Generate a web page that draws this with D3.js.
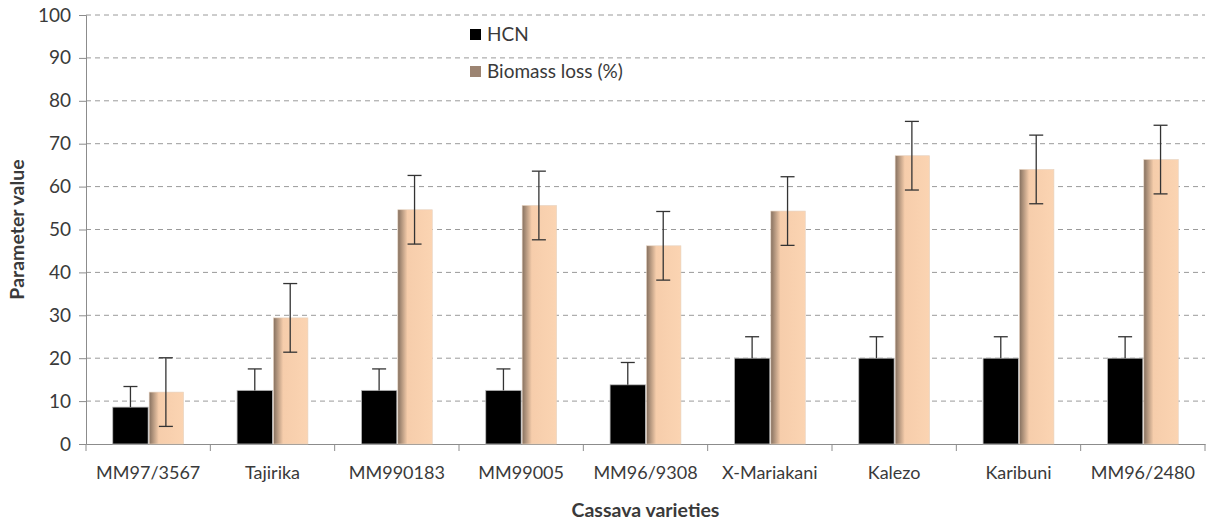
<!DOCTYPE html>
<html>
<head>
<meta charset="utf-8">
<script src="https://cdn.jsdelivr.net/npm/d3@7"></script>
<style>
  body { margin: 0; background: #fff; }
  text { font-family: Lato, "Open Sans", sans-serif; fill: #3a3a3a; }
</style>
</head>
<body>
<div id="chart"></div>
<script>
var varieties = ["MM97/3567", "Tajirika", "MM990183", "MM99005", "MM96/9308",
                 "X-Mariakani", "Kalezo", "Karibuni", "MM96/2480"]
var hcn = [8.6, 12.5, 12.5, 12.5, 13.8, 20, 20, 20, 20]
var hcnErr = [4.8, 5, 5, 5, 5.2, 5, 5, 5, 5]
var biomass = [12.1, 29.4, 54.6, 55.6, 46.2, 54.3, 67.2, 64.0, 66.3]
var biomassErr = [8, 8, 8, 8, 8, 8, 8, 8, 8]
var yTicks = [0, 10, 20, 30, 40, 50, 60, 70, 80, 90, 100]

var margin = {top: 15, right: 7, bottom: 79, left: 86}
  , width = 1212 - margin.left - margin.right
  , height = 523 - margin.top - margin.bottom

var svg = d3.select("#chart")
  .append("svg")
    .attr("width", 1212)
    .attr("height", 523)

var defs = svg.append("defs")
var grad = defs.append("linearGradient").attr("id", "tan")
  .attr("x1", "0%").attr("x2", "100%").attr("y1", "0%").attr("y2", "0%")
grad.append("stop").attr("offset", "0%").attr("stop-color", "#85705f")
grad.append("stop").attr("offset", "28%").attr("stop-color", "#f6cdab")
grad.append("stop").attr("offset", "100%").attr("stop-color", "#fbd4b2")

var g = svg.append("g")
  .attr("transform", "translate(" + margin.left + "," + margin.top + ")")

var xScale = d3.scaleBand()
  .domain(varieties)
  .range([0, width])
  .paddingInner(0.43)
  .paddingOuter(0.215)

var yScale = d3.scaleLinear()
  .domain([0, 100])
  .range([height, 0])

// grid
g.selectAll(".grid")
  .data(yTicks.slice(1))
  .enter()
  .append("line")
  .attr("x1", 0).attr("x2", width)
  .attr("y1", d => yScale(d)).attr("y2", d => yScale(d))
  .attr("stroke", "#9a9a9a")
  .attr("stroke-dasharray", "5,4")

// y axis
var yAxis = g.append("g")
  .call(d3.axisLeft(yScale).tickValues(yTicks).tickSize(7).tickPadding(8))
yAxis.select(".domain").attr("stroke", "#8c8c8c")
yAxis.selectAll(".tick line").attr("stroke", "#8c8c8c")
yAxis.selectAll("text").style("font-size", "19px").attr("fill", "#3a3a3a")

// x axis: ticks at category boundaries
var xAxis = g.append("g")
  .attr("transform", "translate(0," + height + ")")
  .call(d3.axisBottom(xScale).tickSize(0).tickPadding(22))
xAxis.select(".domain").attr("stroke", "#8c8c8c")
xAxis.selectAll("text").style("font-size", "18px").attr("fill", "#3a3a3a")
g.selectAll(".xtick")
  .data(d3.range(varieties.length + 1))
  .enter()
  .append("line")
  .attr("x1", i => i * width / varieties.length)
  .attr("x2", i => i * width / varieties.length)
  .attr("y1", height).attr("y2", height + 7)
  .attr("stroke", "#8c8c8c")

var bw = xScale.bandwidth() / 2

// HCN bars
g.selectAll(".hcn")
  .data(hcn)
  .enter()
  .append("rect")
  .attr("x", (d, i) => xScale(varieties[i]))
  .attr("y", d => yScale(d))
  .attr("width", bw)
  .attr("height", d => height - yScale(d))
  .attr("fill", "#000")
  .attr("stroke", "#bdbdbd")
  .attr("stroke-width", 0.8)

// biomass bars
g.selectAll(".bio")
  .data(biomass)
  .enter()
  .append("rect")
  .attr("x", (d, i) => xScale(varieties[i]) + bw + 1)
  .attr("y", d => yScale(d))
  .attr("width", bw - 1)
  .attr("height", d => height - yScale(d))
  .attr("fill", "url(#tan)")
  .attr("stroke", "#e6d2c0")
  .attr("stroke-width", 0.6)

// error bars (the lower half of the HCN bars is hidden inside the black bar)
function errBars(vals, errs, off, cls, lowerVisible) {
  var eg = g.selectAll("." + cls)
    .data(vals)
    .enter()
    .append("g")
    .attr("class", cls)
  var cx = (d, i) => xScale(varieties[i]) + off
  eg.append("line")
    .attr("x1", cx).attr("x2", cx)
    .attr("y1", (d, i) => yScale(d + errs[i]))
    .attr("y2", (d, i) => lowerVisible ? yScale(d - errs[i]) : yScale(d))
    .attr("stroke", "#333").attr("stroke-width", 1.3)
  var sides = lowerVisible ? [1, -1] : [1]
  sides.forEach(function(s) {
    eg.append("line")
      .attr("x1", (d, i) => cx(d, i) - 7).attr("x2", (d, i) => cx(d, i) + 7)
      .attr("y1", (d, i) => yScale(d + s * errs[i]))
      .attr("y2", (d, i) => yScale(d + s * errs[i]))
      .attr("stroke", "#333").attr("stroke-width", 1.3)
  })
}
errBars(hcn, hcnErr, bw / 2, "ehcn", false)
errBars(biomass, biomassErr, bw + bw / 2, "ebio", true)

// legend
var legend = svg.append("g")
var series = ["HCN", "Biomass loss (%)"]
var legendColor = ["#000", "#9c8472"]
legend.selectAll("rect")
  .data(series)
  .enter()
  .append("rect")
  .attr("x", 470)
  .attr("y", (d, i) => 29 + i * 37)
  .attr("width", 11).attr("height", 11)
  .attr("fill", (d, i) => legendColor[i])
legend.selectAll("text")
  .data(series)
  .enter()
  .append("text")
  .attr("x", 487)
  .attr("y", (d, i) => 41 + i * 37)
  .style("font-size", "19px")
  .text(d => d)

// axis titles
svg.append("text")
  .attr("x", margin.left + width / 2)
  .attr("y", 517)
  .attr("text-anchor", "middle")
  .style("font-size", "19.5px")
  .style("font-weight", "bold")
  .attr("fill", "#000")
  .text("Cassava varieties")

svg.append("text")
  .attr("transform", "translate(24," + (margin.top + height / 2) + ") rotate(-90)")
  .attr("text-anchor", "middle")
  .style("font-size", "19.5px")
  .style("font-weight", "bold")
  .attr("fill", "#000")
  .text("Parameter value")
</script>
</body>
</html>
